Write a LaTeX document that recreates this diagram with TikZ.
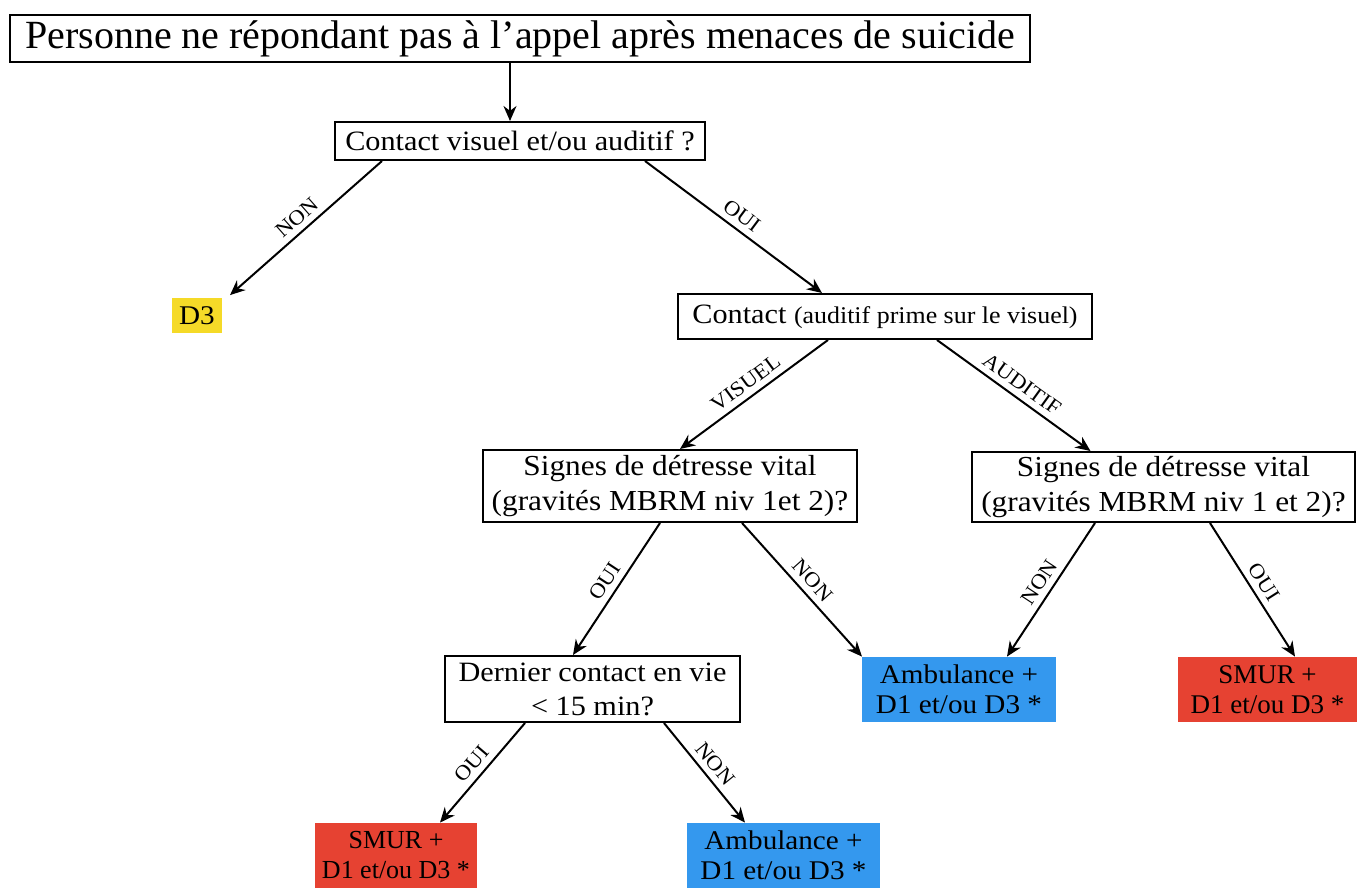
\documentclass[tikz,border=0pt]{standalone}
\usepackage{fontspec}
\setmainfont{Liberation Serif}[FakeStretch=1.08]
\newfontfamily\titlefont{Liberation Serif}
\usetikzlibrary{calc,arrows.meta}
\definecolor{yel}{RGB}{245,218,40}
\definecolor{blu}{RGB}{52,152,238}
\definecolor{rd}{RGB}{230,66,50}
\newcommand{\fs}[2]{\fontsize{#1}{#2}\selectfont}
\begin{document}
\begin{tikzpicture}[x=0.5pt,y=-0.5pt,
  qbox/.style={draw=black,line width=1pt,fill=white,inner sep=0pt,align=center,font=\fs{14}{17}},
  cbox/.style={inner sep=0pt,align=center,font=\fs{13.5}{15}},
  arr/.style={line width=1pt,-{Stealth[length=7.5pt,width=6.5pt]}},
  lab/.style={midway,sloped,above,font=\fs{10.5}{12},inner sep=3pt}]
\useasboundingbox (0,0) rectangle (1357,888);
\node[qbox,minimum width=510pt,minimum height=23.5pt,font=\titlefont\fs{20}{24}] (title) at (520,38.5) {Personne ne répondant pas à l’appel après menaces de suicide};
\node[qbox,minimum width=185pt,minimum height=19pt] (cv) at (520,141) {Contact visuel et/ou auditif ?};
\node[cbox,fill=yel,minimum width=25pt,minimum height=17.5pt] (d3) at (197,316) {D3};
\node[qbox,minimum width=207pt,minimum height=22.5pt] (ca) at (885,316.5) {Contact {\fs{12}{14}(auditif prime sur le visuel)}};
\node[qbox,minimum width=187pt,minimum height=36pt,font=\fs{14.5}{17.5}] (sl) at (670,486) {Signes de détresse vital\\(gravités MBRM niv 1et 2)?};
\node[qbox,minimum width=191.5pt,minimum height=35pt,font=\fs{14.5}{17.5}] (sr) at (1163.5,487) {Signes de détresse vital\\(gravités MBRM niv 1 et 2)?};
\node[qbox,minimum width=147.5pt,minimum height=33pt] (dc) at (592.5,689) {Dernier contact en vie\\< 15 min?};
\node[cbox,fill=blu,minimum width=97pt,minimum height=32.5pt] (am) at (959,689.5) {Ambulance +\\D1 et/ou D3 *};
\node[cbox,fill=rd,minimum width=89.5pt,minimum height=32.5pt,font=\titlefont\fs{13.5}{15}] (sm) at (1267.5,689.5) {SMUR +\\D1 et/ou D3 *};
\node[cbox,fill=rd,minimum width=81pt,minimum height=32.5pt,font=\titlefont\fs{13}{15}] (smb) at (396,855.5) {SMUR +\\D1 et/ou D3 *};
\node[cbox,fill=blu,minimum width=96.5pt,minimum height=32.5pt] (amb) at (783.5,855.5) {Ambulance +\\D1 et/ou D3 *};

\draw[arr] ($(title.south)+(-10,0)$) -- ($(cv.north)+(-10,0)$);
\draw[arr] ($(cv.south)+(-138,0)$) -- node[lab]{NON} ($(d3.north)+(33,-3)$);
\draw[arr] ($(cv.south)+(125,0)$) -- node[lab]{OUI} ($(ca.north)+(-63,0)$);
\draw[arr] ($(ca.south)+(-57,0)$) -- node[lab]{VISUEL} ($(sl.north)+(10,0)$);
\draw[arr] ($(ca.south)+(52,0)$) -- node[lab]{AUDITIF} ($(sr.north)+(-73,0)$);
\draw[arr] ($(sl.south)+(-10,0)$) -- node[lab]{OUI} ($(dc.north)+(-19.5,0)$);
\draw[arr] ($(sl.south)+(72,0)$) -- node[lab]{NON} ($(am.north)+(-97,0)$);
\draw[arr] ($(sr.south)+(-68.5,0)$) -- node[lab]{NON} ($(am.north)+(48,0)$);
\draw[arr] ($(sr.south)+(46.5,0)$) -- node[lab]{OUI} ($(sm.north)+(27.5,0)$);
\draw[arr] ($(dc.south)+(-67.5,0)$) -- node[lab]{OUI} ($(smb.north)+(44,0)$);
\draw[arr] ($(dc.south)+(71.5,0)$) -- node[lab]{NON} ($(amb.north)+(-38.5,0)$);
\end{tikzpicture}
\end{document}
